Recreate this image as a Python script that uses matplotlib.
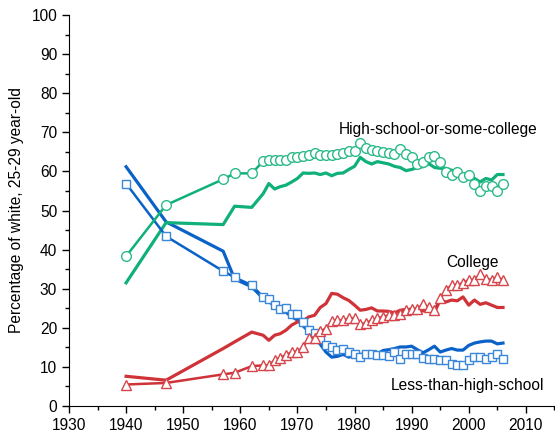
import matplotlib
matplotlib.use("Agg")
import matplotlib.pyplot as plt
from matplotlib.ticker import MultipleLocator

plt.rcParams['font.family'] = ['Liberation Sans', 'DejaVu Sans']

# survey years (1940 and 1947 census-style points, then CPS years)
years = [1940, 1947, 1957, 1959, 1962] + list(range(1964, 2007))

# solid lines
less_hs = [61.2, 47.1, 39.6, 32.5, 30.5,
           27.5, 26.8, 25.5, 24.5, 24.0, 22.8, 22.0, 20.5, 19.0, 17.8,
           15.8, 13.8, 12.5, 12.7, 13.2, 12.5, 13.0, 13.2, 13.3, 13.2,
           13.3, 14.2, 14.4, 14.7, 15.1, 15.1, 15.3, 14.4, 13.6, 14.4,
           15.3, 13.8, 14.3, 14.7, 14.3, 14.3, 15.5, 16.1, 16.4, 16.6,
           16.6, 15.9, 16.1]
hs_some = [31.5, 46.9, 46.4, 51.1, 50.8,
           54.3, 56.9, 55.5, 56.1, 56.5, 57.3, 58.2, 59.6, 59.5, 59.6,
           59.2, 59.6, 58.9, 59.5, 59.6, 60.5, 61.3, 63.6, 62.5, 61.9,
           62.5, 62.2, 61.9, 61.3, 61.0, 60.2, 60.5, 61.0, 61.2, 62.0,
           61.0, 60.8, 60.8, 60.3, 59.9, 59.3, 59.5, 58.2, 57.3, 58.2,
           57.8, 59.2, 59.2]
college = [7.6, 6.6, 14.7, 16.4, 18.9,
           18.1, 16.8, 18.1, 18.5, 19.4, 20.7, 21.5, 21.8, 22.8, 23.2,
           25.2, 26.2, 28.8, 28.6, 27.7, 27.0, 25.8, 24.5, 24.7, 25.1,
           24.3, 24.3, 24.2, 23.8, 24.5, 24.7, 24.7, 24.5, 24.3, 24.7,
           24.0, 27.1, 26.6, 27.1, 26.9, 27.9, 25.8, 27.1, 26.0, 26.4,
           25.8, 25.2, 25.2]

# marker series
less_hs_m = [56.9, 43.4, 34.5, 32.9, 30.9,
             27.9, 27.3, 25.8, 24.9, 25.1, 23.6, 23.6, 21.5, 19.4, 18.7,
             17.2, 15.6, 15.1, 14.3, 14.5, 13.8, 13.2, 12.5, 13.3, 13.2,
             13.0, 13.0, 12.7, 13.8, 12.1, 13.3, 13.2, 13.3, 12.4, 11.9,
             12.1, 11.7, 11.7, 10.8, 10.4, 10.4, 11.7, 12.5, 12.5, 12.1,
             12.5, 13.2, 12.1]
hs_some_m = [38.3, 51.4, 58.0, 59.5, 59.5,
             62.6, 63.0, 62.8, 62.8, 63.0, 63.6, 63.6, 64.0, 64.3, 64.8,
             64.2, 64.1, 64.2, 64.4, 64.8, 65.1, 65.3, 67.2, 66.0, 65.4,
             65.3, 65.0, 64.6, 64.4, 65.7, 64.4, 63.6, 62.0, 62.5, 63.7,
             63.9, 62.4, 59.9, 59.0, 59.9, 58.6, 59.0, 56.9, 54.9, 56.2,
             56.2, 54.9, 56.7]
college_m = [5.5, 5.9, 8.1, 8.5, 10.2,
             10.4, 10.4, 11.7, 12.4, 13.0, 13.8, 13.8, 15.1, 17.5, 17.5,
             19.1, 19.8, 21.7, 21.9, 21.9, 22.4, 22.4, 20.9, 21.2, 21.9,
             22.4, 22.8, 23.2, 23.2, 23.5, 24.5, 24.9, 24.9, 26.0, 25.3,
             24.6, 27.5, 29.6, 30.9, 30.9, 31.5, 32.2, 32.2, 33.7, 32.6,
             32.2, 33.0, 32.2]

blue = '#0a62c8'
green = '#0fb07a'
red = '#cf3237'

fig = plt.figure(figsize=(5.55, 4.34), dpi=100)
ax = fig.add_axes([0.1243, 0.0645, 0.8746, 0.9009])

lw = 2.3
ax.plot(years, less_hs, color=blue, lw=lw, zorder=3)
ax.plot(years, hs_some, color=green, lw=lw, zorder=3)
ax.plot(years, college, color=red, lw=lw, zorder=3)

ax.plot(years, less_hs_m, color=blue, lw=1.8, marker='s', ms=6,
        mfc='white', mec='#3a86d8', mew=1.0, zorder=4)
ax.plot(years, hs_some_m, color=green, lw=1.8, marker='o', ms=7,
        mfc='white', mec='#2cba88', mew=1.0, zorder=4)
ax.plot(years, college_m, color=red, lw=1.8, marker='^', ms=7,
        mfc='white', mec='#d6454a', mew=1.0, zorder=4)

fs = 11.2
ax.text(1994.6, 70.6, 'High-school-or-some-college', ha='center', va='center', fontsize=fs)
ax.text(2000.6, 36.8, 'College', ha='center', va='center', fontsize=fs)
ax.text(1999.7, 5.3, 'Less-than-high-school', ha='center', va='center', fontsize=fs)

ax.set_xlim(1930, 2015)
ax.set_ylim(0, 100)
ax.xaxis.set_major_locator(MultipleLocator(10))
ax.xaxis.set_minor_locator(MultipleLocator(5))
ax.yaxis.set_major_locator(MultipleLocator(10))
ax.yaxis.set_minor_locator(MultipleLocator(5))
ax.set_xticks(range(1930, 2011, 10))
ax.tick_params(which='major', length=5, width=1, labelsize=fs, direction='out')
ax.tick_params(which='minor', length=3, width=1, direction='out')
ax.spines['top'].set_visible(False)
ax.spines['right'].set_visible(False)
ax.set_ylabel('Percentage of white, 25-29 year-old', fontsize=fs, labelpad=5)

fig.savefig('out.png', dpi=100)
